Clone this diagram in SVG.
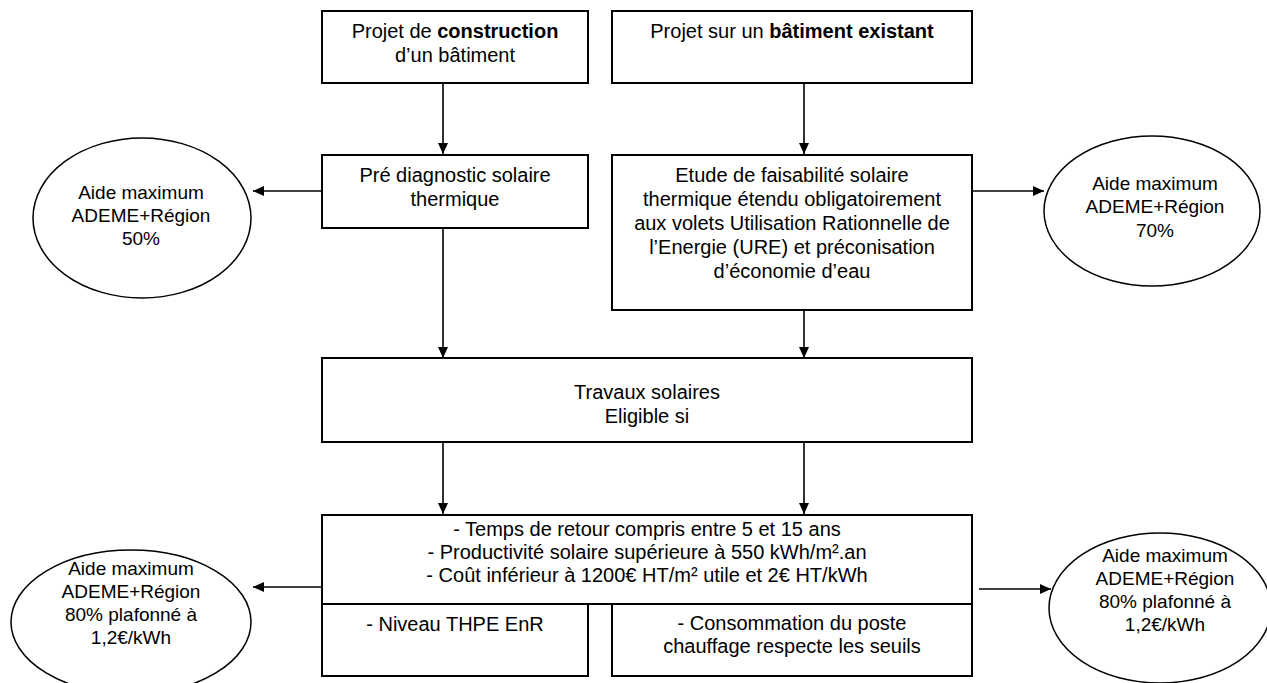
<svg xmlns="http://www.w3.org/2000/svg" width="1267" height="683" viewBox="0 0 1267 683">
<style>
  .box { fill: #fff; stroke: #000; stroke-width: 2; }
  .ell { fill: #fff; stroke: #000; stroke-width: 1.5; }
  .t { font-family: "Liberation Sans", Arial, sans-serif; font-size: 20px; fill: #000; text-anchor: middle; }
  .te { font-family: "Liberation Sans", Arial, sans-serif; font-size: 19px; fill: #000; text-anchor: middle; }
  .b { font-weight: bold; }
  .conn line { stroke: #000; stroke-width: 1.6; fill: none; marker-end: url(#arr); }
</style>
<defs>
  <marker id="arr" markerUnits="userSpaceOnUse" markerWidth="12" markerHeight="10" refX="11" refY="5" orient="auto">
    <path d="M0,0 L11,5 L0,10 Z" fill="#000"/>
  </marker>
</defs>
<rect width="1267" height="683" fill="#fff"/>

<g id="connectors" class="conn">
  <line x1="443" y1="83" x2="443" y2="154"/>
  <line x1="804" y1="83" x2="804" y2="154"/>
  <line x1="443" y1="228" x2="443" y2="358"/>
  <line x1="804" y1="311" x2="804" y2="358"/>
  <line x1="443" y1="443" x2="443" y2="514"/>
  <line x1="804" y1="443" x2="804" y2="514"/>
  <line x1="322" y1="191" x2="253" y2="191"/>
  <line x1="972" y1="191" x2="1044" y2="191"/>
  <line x1="322" y1="587" x2="253" y2="587"/>
  <line x1="979" y1="589" x2="1051" y2="589"/>
</g>

<g id="n-construction">
  <rect class="box" x="322" y="11" width="266" height="72"/>
  <text class="t" x="455" y="38">Projet de <tspan class="b">construction</tspan></text>
  <text class="t" x="455" y="62">d’un bâtiment</text>
</g>

<g id="n-existant">
  <rect class="box" x="612" y="11" width="360" height="72"/>
  <text class="t" x="792" y="38">Projet sur un <tspan class="b">bâtiment existant</tspan></text>
</g>

<g id="n-prediag">
  <rect class="box" x="322" y="155" width="266" height="73"/>
  <text class="t" x="455" y="182">Pré diagnostic solaire</text>
  <text class="t" x="455" y="206">thermique</text>
</g>

<g id="n-etude">
  <rect class="box" x="612" y="155" width="360" height="155"/>
  <text class="t" x="792" y="182">Etude de faisabilité solaire</text>
  <text class="t" x="792" y="206">thermique étendu obligatoirement</text>
  <text class="t" x="792" y="230">aux volets Utilisation Rationnelle de</text>
  <text class="t" x="792" y="254">l’Energie (URE) et préconisation</text>
  <text class="t" x="792" y="278">d’économie d’eau</text>
</g>

<g id="n-travaux">
  <rect class="box" x="322" y="358" width="650" height="84"/>
  <text class="t" x="647" y="399">Travaux solaires</text>
  <text class="t" x="647" y="423">Eligible si</text>
</g>

<g id="n-criteres">
  <rect class="box" x="322" y="515" width="650" height="89"/>
  <text class="t" x="647" y="536">- Temps de retour compris entre 5 et 15 ans</text>
  <text class="t" x="647" y="559">- Productivité solaire supérieure à 550 kWh/m².an</text>
  <text class="t" x="647" y="582">- Coût inférieur à 1200€ HT/m² utile et 2€ HT/kWh</text>
</g>

<g id="n-thpe">
  <rect class="box" x="322" y="604" width="266" height="72"/>
  <text class="t" x="455" y="631">- Niveau THPE EnR</text>
</g>

<g id="n-conso">
  <rect class="box" x="612" y="604" width="360" height="72"/>
  <text class="t" x="792" y="630">- Consommation du poste</text>
  <text class="t" x="792" y="653">chauffage respecte les seuils</text>
</g>

<g id="e-50">
  <ellipse class="ell" cx="142" cy="218" rx="109" ry="80"/>
  <text class="te" x="141" y="199">Aide maximum</text>
  <text class="te" x="141" y="222">ADEME+Région</text>
  <text class="te" x="141" y="245">50%</text>
</g>

<g id="e-70">
  <ellipse class="ell" cx="1152" cy="211" rx="108" ry="75"/>
  <text class="te" x="1155" y="190">Aide maximum</text>
  <text class="te" x="1155" y="213">ADEME+Région</text>
  <text class="te" x="1155" y="237">70%</text>
</g>

<g id="e-80-left">
  <ellipse class="ell" cx="131" cy="622" rx="120" ry="72"/>
  <text class="te" x="131" y="575">Aide maximum</text>
  <text class="te" x="131" y="598">ADEME+Région</text>
  <text class="te" x="131" y="621">80% plafonné à</text>
  <text class="te" x="131" y="644">1,2€/kWh</text>
</g>

<g id="e-80-right">
  <ellipse class="ell" cx="1160" cy="608" rx="111" ry="75"/>
  <text class="te" x="1165" y="562">Aide maximum</text>
  <text class="te" x="1165" y="585">ADEME+Région</text>
  <text class="te" x="1165" y="608">80% plafonné à</text>
  <text class="te" x="1165" y="631">1,2€/kWh</text>
</g>
</svg>
